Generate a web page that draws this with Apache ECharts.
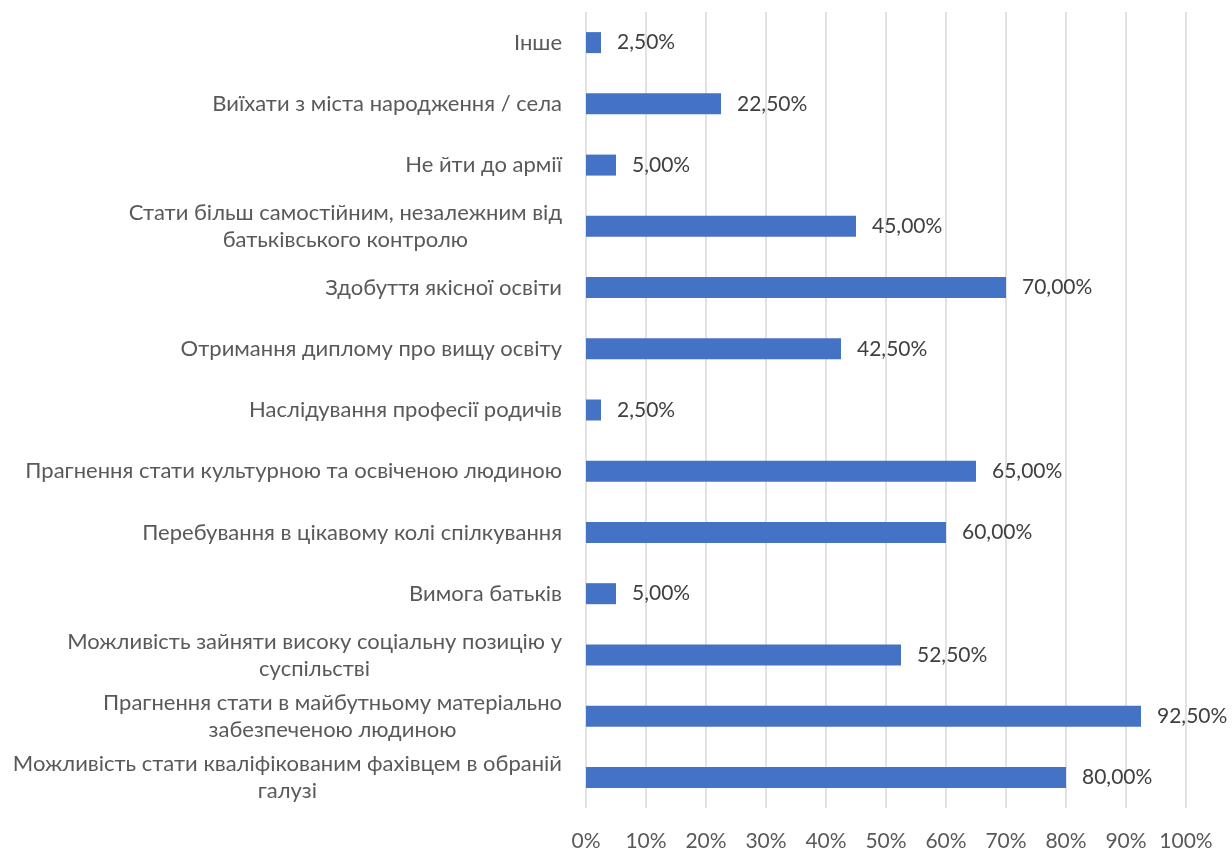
<!DOCTYPE html>
<html>
<head>
<meta charset="utf-8">
<script src="https://cdn.jsdelivr.net/npm/echarts@6/dist/echarts.min.js"></script>
<style>
  html, body { margin: 0; padding: 0; background: #fff; }
  #chart { width: 1232px; height: 852px; }
</style>
</head>
<body>
<div id="chart"></div>
<script>
// категорії зверху вниз
const categories = [
  "Інше",
  "Виїхати з міста народження / села",
  "Не йти до армії",
  "Стати більш самостійним, незалежним від\nбатьківського контролю",
  "Здобуття якісної освіти",
  "Отримання диплому про вищу освіту",
  "Наслідування професії родичів",
  "Прагнення стати культурною та освіченою людиною",
  "Перебування в цікавому колі спілкування",
  "Вимога батьків",
  "Можливість зайняти високу соціальну позицію у\nсуспільстві",
  "Прагнення стати в майбутньому матеріально\nзабезпеченою людиною",
  "Можливість стати кваліфікованим фахівцем в обраній\nгалузі"
];
const values = [2.5, 22.5, 5, 45, 70, 42.5, 2.5, 65, 60, 5, 52.5, 92.5, 80];
const xTicks = [0, 10, 20, 30, 40, 50, 60, 70, 80, 90, 100];

const font = "Lato";
const chart = echarts.init(document.getElementById("chart"));

const option = {
  animation: false,
  grid: { left: 586, right: 46, top: 12, bottom: 42, containLabel: false },
  xAxis: {
    type: "value",
    min: xTicks[0],
    max: xTicks[xTicks.length - 1],
    interval: 10,
    axisLine: { show: false },
    axisTick: { show: false },
    splitLine: { lineStyle: { color: "#d9d9d9", width: 1.5 } },
    axisLabel: {
      margin: 23,
      color: "#595959",
      fontFamily: font,
      fontSize: 21,
      formatter: (v) => v + "%"
    }
  },
  yAxis: {
    type: "category",
    inverse: true,
    data: categories,
    axisLine: { show: false },
    axisTick: { show: false },
    axisLabel: {
      margin: 24,
      color: "#595959",
      fontFamily: font,
      fontSize: 22,
      lineHeight: 27,
      formatter: (v) => v.split("\n").map((s) => "{c|" + s + "}").join("\n"),
      rich: {
        c: { align: "center", color: "#595959", fontFamily: font, fontSize: 22, lineHeight: 27 }
      }
    }
  },
  series: [
    {
      type: "bar",
      data: values,
      barWidth: 21,
      itemStyle: { color: "#4472c4" },
      label: {
        show: true,
        position: "right",
        distance: 16,
        color: "#404040",
        fontFamily: font,
        fontSize: 21,
        formatter: (p) => p.value.toFixed(2).replace(".", ",") + "%"
      }
    }
  ]
};

chart.setOption(option);
window.addEventListener("resize", () => chart.resize());
</script>
</body>
</html>
